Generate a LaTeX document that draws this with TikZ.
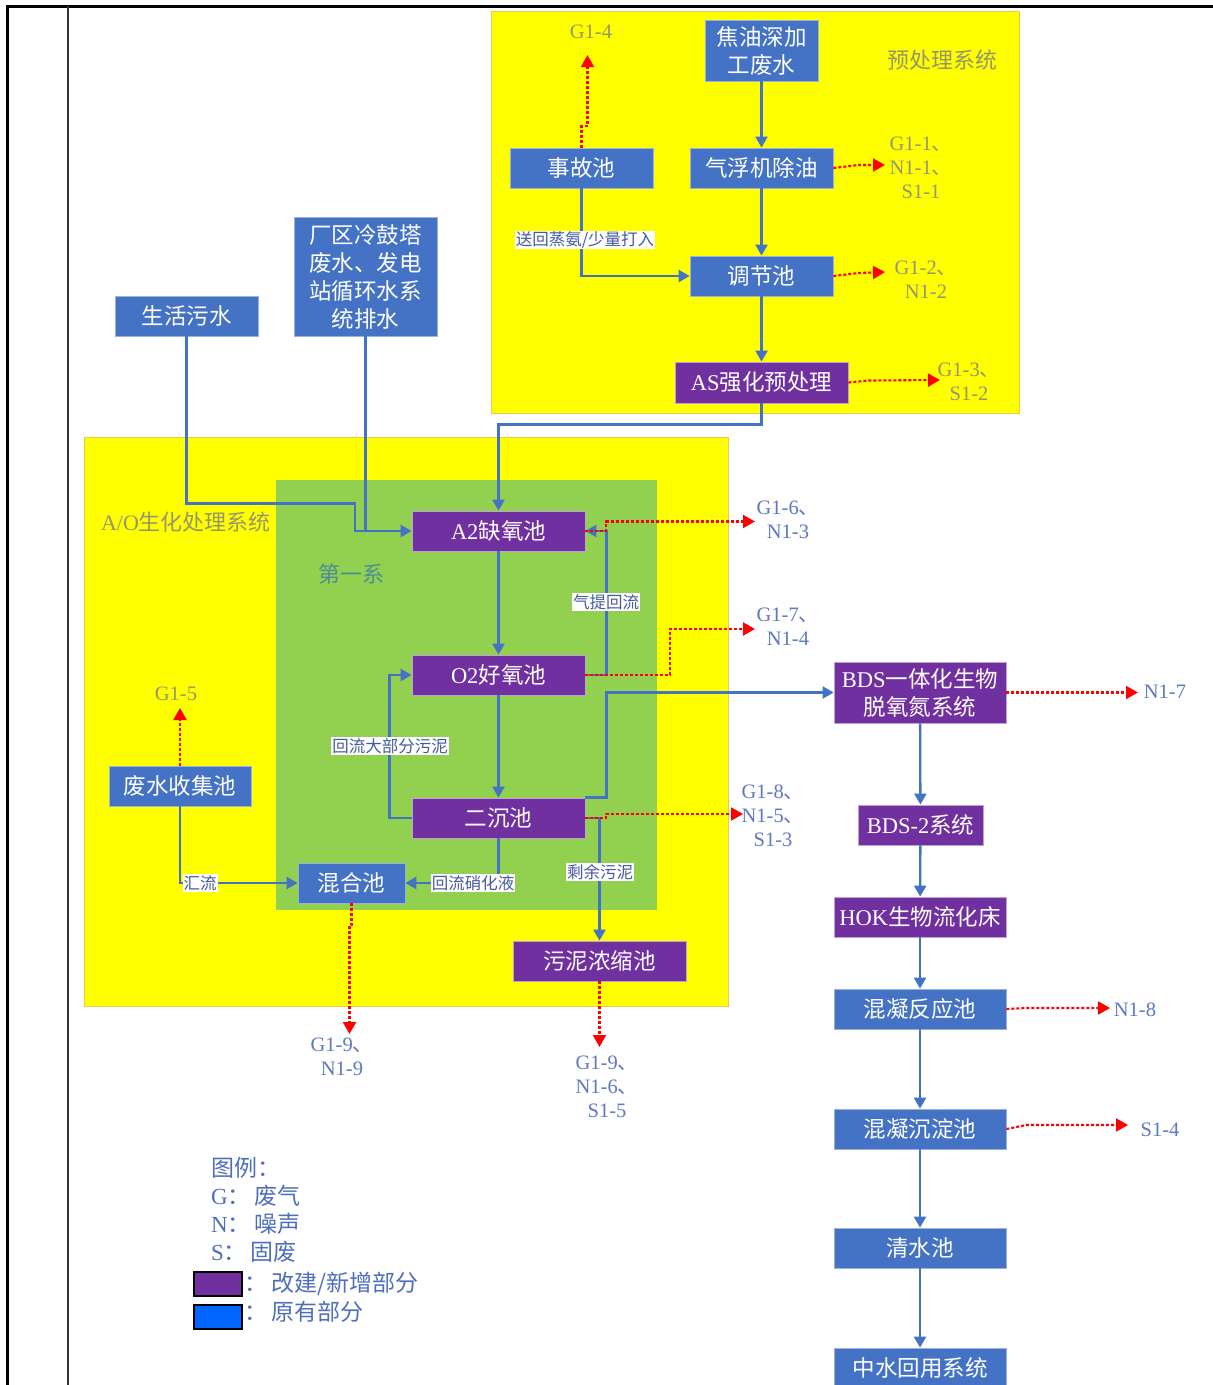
\documentclass[tikz,border=0pt]{standalone}
\usepackage{fontspec}
\setmainfont{Noto Sans CJK SC}
\newfontfamily\rmlat{Liberation Serif}
\usetikzlibrary{arrows.meta}
\definecolor{bblue}{HTML}{4472C4}
\definecolor{bpurp}{HTML}{7030A0}
\definecolor{ylw}{HTML}{FFFF00}
\definecolor{ylwedge}{RGB}{235,200,80}
\definecolor{grn}{HTML}{92D050}
\definecolor{lblo}{RGB}{95,120,195}
\definecolor{lbly}{RGB}{150,150,110}
\definecolor{lblg}{RGB}{80,140,150}
\definecolor{tagc}{RGB}{70,90,160}
\definecolor{legb}{HTML}{0066FF}
\definecolor{legt}{RGB}{80,110,190}
\begin{document}
\begin{tikzpicture}[x=1pt,y=-1pt,
 bx/.style={fill=bblue,draw=bblue!55!white,line width=0.8pt,text=white,inner sep=0pt,align=center,font=\fontsize{22.5}{28}\selectfont},
 px/.style={bx,fill=bpurp,draw=bpurp!45!white},
 flow/.style={bblue,line width=2.3pt,-{Triangle[width=12pt,length=11pt]}},
 plain/.style={bblue,line width=2.3pt},
 emis/.style={red,line width=2.1pt,dash pattern=on 3pt off 2pt,-{Triangle[width=13pt,length=12pt]}},
 tag/.style={fill=white,inner sep=1pt,text=tagc,font=\fontsize{16.5}{18}\selectfont},
 lab/.style={text=lblo,align=center,inner sep=0pt,font=\fontsize{20.5}{24}\selectfont},
 laby/.style={lab,text=lbly},
 sysl/.style={inner sep=0pt,font=\fontsize{22}{26}\selectfont},
 legtxt/.style={inner sep=0pt,text=legt,font=\fontsize{23}{28}\selectfont},
]
\useasboundingbox (0,0) rectangle (1213,1385);
\fill[white] (0,0) rectangle (1213,1385);
% frame
\draw[line width=3pt] (7,1385) -- (7,6) -- (1213,6);
\draw[line width=1.4pt,black!80] (68,6) -- (68,1385);
% regions
\filldraw[fill=ylw,draw=ylwedge,line width=0.8pt] (491,11) rectangle (1019,413);
\filldraw[fill=ylw,draw=ylwedge,line width=0.8pt] (84,437) rectangle (728,1006);
\fill[grn] (276,480) rectangle (657,910);
\node[sysl,text=lbly] (pretl) at (942,60) {预处理系统};
\node[sysl,text=lbly] (aol) at (186,522) {{\rmlat A/O}生化处理系统};
\node[sysl,text=lblg] (firstl) at (351,574) {第一系};

% boxes
\node[bx,minimum width=113pt,minimum height=61pt] (tar) at (761.5,50.5) {焦油深加\\工废水};
\node[bx,minimum width=143pt,minimum height=40pt] (acc) at (581.5,168) {事故池};
\node[bx,minimum width=143pt,minimum height=40pt] (flot) at (761.5,168) {气浮机除油};
\node[bx,minimum width=143pt,minimum height=40pt] (adj) at (761.5,276) {调节池};
\node[px,minimum width=173pt,minimum height=41pt] (as) at (761.5,382.5) {{\rmlat AS}强化预处理};
\node[bx,minimum width=143pt,minimum height=40pt] (dom) at (186.5,316) {生活污水};
\node[bx,minimum width=143pt,minimum height=119pt] (cold) at (365.5,276.5) {厂区冷鼓塔\\废水、发电\\站循环水系\\统排水};
\node[px,minimum width=173pt,minimum height=40pt] (a2) at (498.5,531) {{\rmlat A2}缺氧池};
\node[px,minimum width=173pt,minimum height=40pt] (o2) at (498.5,675) {{\rmlat O2}好氧池};
\node[px,minimum width=173pt,minimum height=40pt] (sec) at (498.5,818) {二沉池};
\node[bx,minimum width=107pt,minimum height=40pt] (mix) at (351.5,883) {混合池};
\node[px,minimum width=173pt,minimum height=40pt] (sludge) at (599.5,961) {污泥浓缩池};
\node[bx,minimum width=142pt,minimum height=40pt] (coll) at (180,786) {废水收集池};
\node[px,minimum width=172pt,minimum height=61pt] (bds) at (920,692.5) {{\rmlat BDS}一体化生物\\脱氧氮系统};
\node[px,minimum width=125pt,minimum height=40pt] (bds2) at (920.5,825) {{\rmlat BDS-2}系统};
\node[px,minimum width=172pt,minimum height=40pt] (hok) at (920,917) {{\rmlat HOK}生物流化床};
\node[bx,minimum width=172pt,minimum height=40pt] (coag) at (920,1009) {混凝反应池};
\node[bx,minimum width=172pt,minimum height=40pt] (sed) at (920,1129) {混凝沉淀池};
\node[bx,minimum width=172pt,minimum height=40pt] (clear) at (920,1248) {清水池};
\node[bx,minimum width=172pt,minimum height=40pt] (reuse) at (920,1368) {中水回用系统};

% emission end points
\coordinate (e14) at (587.5,55);
\coordinate (e11) at (885,165);
\coordinate (e12) at (885,272);
\coordinate (e13) at (940,380);
\coordinate (e15) at (180,708);
\coordinate (e16) at (755,521.5);
\coordinate (e17) at (755,629);
\coordinate (e18) at (743,814);
\coordinate (e19) at (349.5,1034);
\coordinate (e20) at (599.5,1047);
\coordinate (e21) at (1138,692.5);
\coordinate (e22) at (1110,1008);
\coordinate (e23) at (1128,1125);

% pretreatment flows
\draw[flow] (tar) -- (flot);
\draw[flow] (flot) -- (adj);
\draw[flow] (adj) -- (as);
\draw[flow] (acc.south) |- (adj.west);
\draw[flow] (as.south) -- ++(0,21) -| (a2.north);
% inputs
\draw[flow] (dom.south) -- ++(0,167) -- ++(168.5,0) |- (a2.west);
\draw[plain] (cold.south) -- (cold.south |- a2.west) -- ++(20,0);
% A/O flows
\draw[flow] (a2) -- (o2);
\draw[flow] (o2) -- (sec);
\draw[flow] (o2.east) -- ++(21,0) |- (a2.east);
\draw[flow] (sec.west) -- ++(-22,0) |- (o2.west);
\draw[flow] (sec.south) |- (mix.east);
\draw[flow] (sec.east) -| (sludge.north);
\draw[flow] (sec.north east) -- ++(21,0) |- (bds.west);
\draw[flow] (coll.south) |- (mix.west);
% right column
\draw[flow] (bds) -- (bds2);
\draw[flow] (bds2) -- (hok);
\draw[flow] (hok) -- (coag);
\draw[flow] (coag) -- (sed);
\draw[flow] (sed) -- (clear);
\draw[flow] (clear) -- (reuse);

% emissions
\draw[emis] (acc.north) -- ++(0,-22) -- ++(6,0) -- (e14);
\draw[emis] (flot.east) -- ++(25,-3) -- (e11);
\draw[emis] (adj.east) -- ++(25,-3) -- (e12);
\draw[emis] (as.east) -- ++(20,-2) -- (e13);
\draw[emis] (coll.north) -- (e15);
\draw[emis] (a2.east) -- ++(21,0) |- (e16);
\draw[emis] (o2.east) -- ++(85,0) |- (e17);
\draw[emis] (sec.east) -- ++(21,0) |- (e18);
\draw[emis] (mix.south) -- ++(0,22) -- ++(-2,0) -- (e19);
\draw[emis] (sludge.south) -- (e20);
\draw[emis] (bds.east) -- (e21);
\draw[emis] (coag.east) -- ++(20,-1) -- (e22);
\draw[emis] (sed.east) -- ++(20,-4) -- (e23);

% connector tags
\node[tag] (t1) at (585,240) {送回蒸氨/少量打入};
\node[tag] (t2) at (606,602) {气提回流};
\node[tag] (t3) at (390,746) {回流大部分污泥};
\node[tag] (t4) at (473,883) {回流硝化液};
\node[tag] (t5) at (600,872) {剩余污泥};
\node[tag] (t6) at (200,883) {汇流};

% emission labels
\node[laby] (l14) at (591,32) {\rmlat G1-4};
\node[laby] (l11) at (921,168) {{\rmlat G1-1}、\\{\rmlat N1-1}、\\{\rmlat S1-1}};
\node[laby] (l12) at (926,280) {{\rmlat G1-2}、\\{\rmlat N1-2}};
\node[laby] (l13) at (969,382) {{\rmlat G1-3}、\\{\rmlat S1-2}};
\node[laby] (l15) at (176,694) {\rmlat G1-5};
\node[lab] (l16) at (788,520) {{\rmlat G1-6}、\\{\rmlat N1-3}};
\node[lab] (l17) at (788,627) {{\rmlat G1-7}、\\{\rmlat N1-4}};
\node[lab] (l18) at (773,816) {{\rmlat G1-8}、\\{\rmlat N1-5}、\\{\rmlat S1-3}};
\node[lab] (l19) at (342,1057) {{\rmlat G1-9}、\\{\rmlat N1-9}};
\node[lab] (l20) at (607,1087) {{\rmlat G1-9}、\\{\rmlat N1-6}、\\{\rmlat S1-5}};
\node[lab] (l21) at (1165,692) {\rmlat N1-7};
\node[lab] (l22) at (1135,1010) {\rmlat N1-8};
\node[lab] (l23) at (1160,1130) {\rmlat S1-4};

% legend
\node[legtxt,anchor=north west,align=left] (leg) at (211,1157) {图例：\\{\rmlat G}：\,废气\\{\rmlat N}：\,噪声\\{\rmlat S}：\,固废};
\node[draw=black,fill=bpurp,line width=1.2pt,minimum width=48pt,minimum height=24pt,inner sep=0pt] (lp) at (218,1284) {};
\node[draw=black,fill=legb,line width=1.2pt,minimum width=48pt,minimum height=24pt,inner sep=0pt] (lb) at (218,1317) {};
\node[legtxt,anchor=west] (lpt) at (244,1284) {：\,改建/新增部分};
\node[legtxt,anchor=west] (lbt) at (244,1312) {：\,原有部分};
\end{tikzpicture}
\end{document}
